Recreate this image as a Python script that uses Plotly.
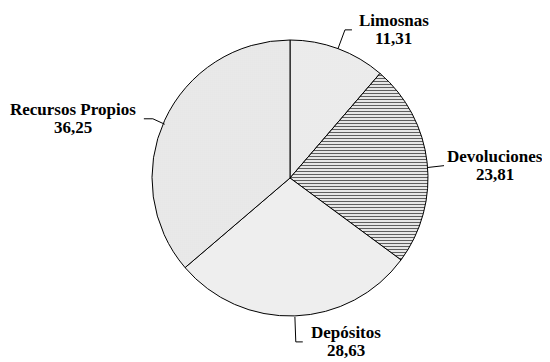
import math
import plotly.graph_objects as go

categories = ["Limosnas", "Devoluciones", "Depósitos", "Recursos Propios"]
values = [11.31, 23.81, 28.63, 36.25]
value_labels = ["11,31", "23,81", "28,63", "36,25"]

W, H = 550, 362
OFF = 8                      # page body margin compensation
CX, CY, R = 290 - OFF, 178 - OFF, 138

# styling / layout constants (pixels)
ext = [20, 17, 25, 13]          # radial extension of leader line beyond pie edge
edy = [0, 5, 1, 4]              # small vertical adjustment of leader elbow
side = [1, 1, 1, -1]            # direction of horizontal part of leader
hlen = [7, 0, 7, 9]
text_dx = [42, 51, 43, 71]      # from leader end to text block centre
LINE = 18                       # line spacing of label text
patterns = [
    dict(shape=".", fgcolor="#c8c8c8", bgcolor="#ffffff", size=2, solidity=0.35),
    dict(shape="-", fgcolor="#5e5e5e", bgcolor="#e6e6e6", size=3, solidity=0.35),
    dict(shape=".", fgcolor="#d0d0d0", bgcolor="#ffffff", size=2, solidity=0.35),
    dict(shape=".", fgcolor="#c4c4c4", bgcolor="#ffffff", size=2, solidity=0.4),
]

fig = go.Figure(go.Pie(
    labels=categories,
    values=values,
    sort=False,
    direction="clockwise",
    rotation=0,
    textinfo="none",
    hoverinfo="label+value",
    marker=dict(
        colors=["#ffffff"] * 4,
        line=dict(color="#000000", width=1),
        pattern=dict(
            shape=[p["shape"] for p in patterns],
            fgcolor=[p["fgcolor"] for p in patterns],
            bgcolor=[p["bgcolor"] for p in patterns],
            size=[p["size"] for p in patterns],
            solidity=[p["solidity"] for p in patterns],
        ),
    ),
    domain=dict(x=[(CX - R) / W, (CX + R) / W], y=[(H - CY - R) / H, (H - CY + R) / H]),
    showlegend=False,
))

total = sum(values)
cum = 0.0
shapes = []
annotations = []
font = dict(family="Liberation Serif", size=17, color="#000000")
for i, (cat, v) in enumerate(zip(categories, values)):
    mid = (cum + v / 2) / total * 2 * math.pi
    cum += v
    sx, sy = CX + R * math.sin(mid), CY - R * math.cos(mid) + edy[i]
    ex, ey = CX + (R + ext[i]) * math.sin(mid), CY - (R + ext[i]) * math.cos(mid) + edy[i]
    hx = ex + side[i] * hlen[i]
    path = f"M {sx/W},{1-sy/H} L {ex/W},{1-ey/H} L {hx/W},{1-ey/H}"
    shapes.append(dict(type="path", xref="paper", yref="paper", path=path,
                       line=dict(color="#000000", width=1)))
    tx = hx + side[i] * text_dx[i]
    for txt, dy in ((cat, -LINE / 2), (value_labels[i], LINE / 2)):
        annotations.append(dict(
            x=tx / W, y=1 - (ey + dy) / H, xref="paper", yref="paper",
            text=f"<b>{txt}</b>",
            showarrow=False, align="center",
            xanchor="center", yanchor="middle",
            font=font,
        ))

fig.update_layout(
    width=W, height=H,
    margin=dict(l=0, r=0, t=0, b=0),
    paper_bgcolor="#ffffff",
    plot_bgcolor="#ffffff",
    shapes=shapes,
    annotations=annotations,
)

fig.write_html("out.html")
